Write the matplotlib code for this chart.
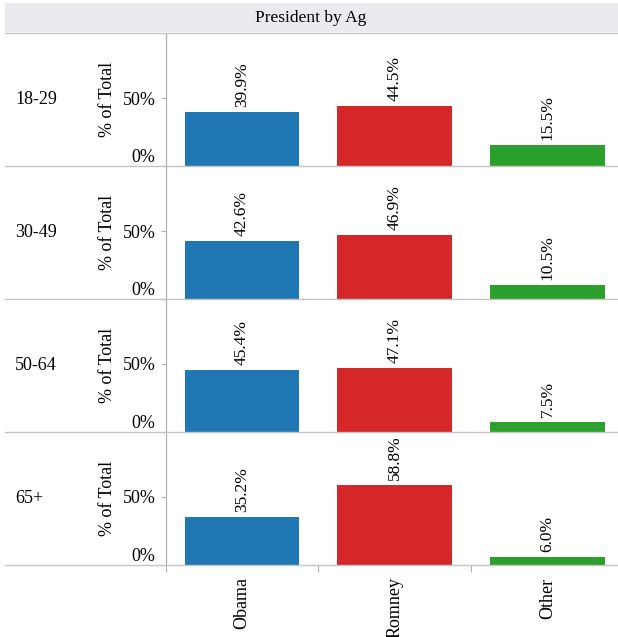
import matplotlib
matplotlib.use('Agg')
from matplotlib import pyplot as plt
from matplotlib.lines import Line2D
from matplotlib.patches import Rectangle

plt.rcParams['font.family'] = ['Liberation Serif', 'DejaVu Serif']

title = 'President by Ag'
age_groups = ['18-29', '30-49', '50-64', '65+']
candidates = ['Obama', 'Romney', 'Other']
colors = ['#1f77b4', '#d62728', '#2ca02c']

obama = [39.9, 42.6, 45.4, 35.2]
romney = [44.5, 46.9, 47.1, 58.8]
other = [15.5, 10.5, 7.5, 6.0]

W, H = 618, 637
fig = plt.figure(figsize=(W / 100, H / 100), dpi=100)

def fx(px):
    return px / W

def fy(py):
    return 1 - py / H

line_col = '#c4c4c4'

# header band
fig.add_artist(Rectangle((fx(5), fy(32)), fx(613), 29 / H, transform=fig.transFigure,
                         facecolor='#ebebef', edgecolor='none'))
fig.text(fx(311), fy(17.5), title, ha='center', va='center', fontsize=12.5)

top = 33.3
row_h = 132.9
for i, age in enumerate(age_groups):
    y0 = top + row_h * i
    y1 = y0 + row_h
    ax = fig.add_axes([fx(165.5), fy(y1), fx(624 - 165.5), row_h / H])
    vals = [obama[i], romney[i], other[i]]
    ax.bar(range(3), [v / 100 for v in vals], width=0.75, color=colors)
    for j, v in enumerate(vals):
        ax.annotate(f'{v:.1f}%', (j, v / 100), xytext=(0, 3.5), textcoords='offset points',
                    rotation=90, ha='center', va='bottom', fontsize=12.5)
    ax.set_xlim(-0.5, 2.5)
    ax.set_ylim(0, 0.977)
    ax.set_yticks([0, 0.5])
    ax.set_yticklabels(['0%', '50%'], fontsize=13)
    ax.get_yticklabels()[0].set_va('bottom')
    ax.tick_params(axis='y', direction='out', length=3.6, width=0.8, color='#b0b0b0', pad=3.6)
    for s in ['top', 'right', 'bottom']:
        ax.spines[s].set_visible(False)
    ax.spines['left'].set_color('#b0b0b0')
    ax.spines['left'].set_linewidth(0.9)
    ax.patch.set_visible(False)
    if i == len(age_groups) - 1:
        ax.set_xticks(range(3))
        ax.set_xticklabels(candidates, rotation=90, fontsize=13)
        ax.set_xticks([-0.5, 0.5, 1.5], minor=True)
        ax.tick_params(axis='x', which='major', length=0, pad=9)
        ax.tick_params(axis='x', which='minor', length=5, width=0.8, color='#b0b0b0')
    else:
        ax.set_xticks([])

    fig.text(fx(15), fy(y0 + row_h / 2), age, ha='left', va='center', fontsize=13)
    fig.text(fx(107), fy(y0 + row_h / 2), '% of Total', ha='center', va='center',
             rotation=90, fontsize=13)

# row separators
for k in range(len(age_groups) + 1):
    yy = fy(top + row_h * k)
    fig.add_artist(Line2D([fx(5), 1], [yy, yy], transform=fig.transFigure,
                          color=line_col, linewidth=1.0))

fig.savefig('out.png', dpi=100)
